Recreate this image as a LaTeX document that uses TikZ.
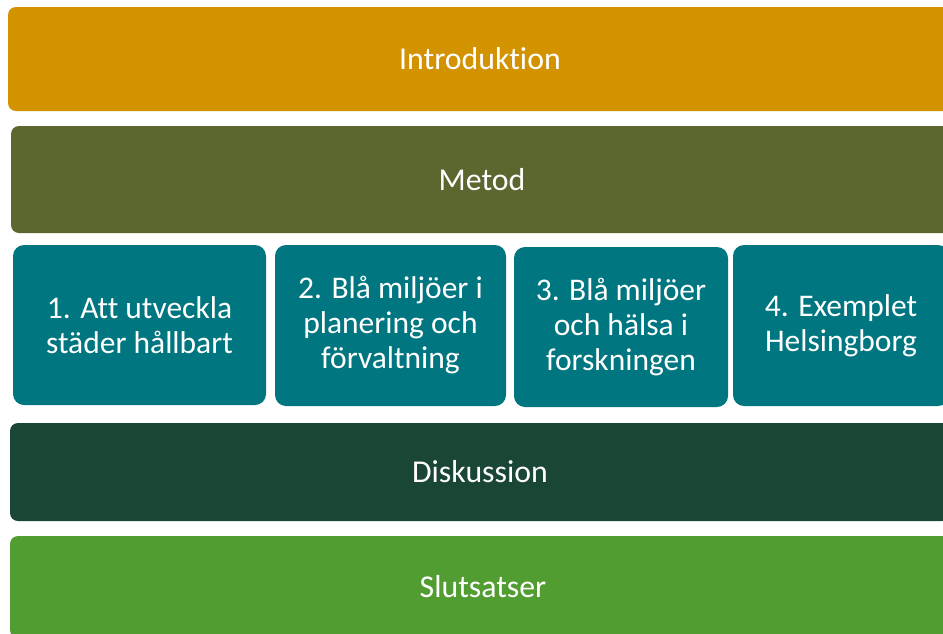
\documentclass[tikz,border=0pt]{standalone}
\usepackage{fontspec}
\setmainfont[Ligatures=NoCommon]{Carlito}
\definecolor{cIntro}{RGB}{211,146,0}
\definecolor{cMetod}{RGB}{92,103,48}
\definecolor{cTeal}{RGB}{0,118,128}
\definecolor{cDisk}{RGB}{26,70,54}
\definecolor{cSlut}{RGB}{82,157,49}
\begin{document}
\begin{tikzpicture}[x=1pt,y=-1pt,
  band/.style={rectangle,rounded corners=8pt,inner sep=0pt,text=white,
    font=\fontsize{31.8}{35}\selectfont,draw=none},
  tbox/.style={rectangle,rounded corners=11pt,inner sep=0pt,text=white,fill=cTeal,
    font=\fontsize{31.5}{35}\selectfont,align=center,draw=none}]
\useasboundingbox (0,0) rectangle (943,633);
\clip (0,0) rectangle (943,633);
\fill[white] (0,0) rectangle (943,633);
\node[band,fill=cIntro,minimum width=944pt,minimum height=104pt] (intro) at (480,59) {Introduktion};
\node[band,fill=cMetod,minimum width=942pt,minimum height=107pt] (metod) at (482,179.5) {Metod};
\node[tbox,minimum width=253pt,minimum height=160pt] (t1) at (139.5,325) {1. Att utveckla\\städer hållbart};
\node[tbox,minimum width=231pt,minimum height=161pt] (t2) at (390.5,325.5) {2. Blå miljöer i\\planering och\\förvaltning};
\node[tbox,minimum width=214pt,minimum height=160pt] (t3) at (621,327) {3. Blå miljöer\\och hälsa i\\forskningen};
\node[tbox,minimum width=216pt,minimum height=161pt] (t4) at (841,325.5) {4. Exemplet\\Helsingborg};
\node[band,fill=cDisk,minimum width=940pt,minimum height=98pt] (disk) at (480,472) {Diskussion};
\node[band,fill=cSlut,minimum width=946pt,minimum height=102pt] (slut) at (483,587) {Slutsatser};
\end{tikzpicture}
\end{document}
